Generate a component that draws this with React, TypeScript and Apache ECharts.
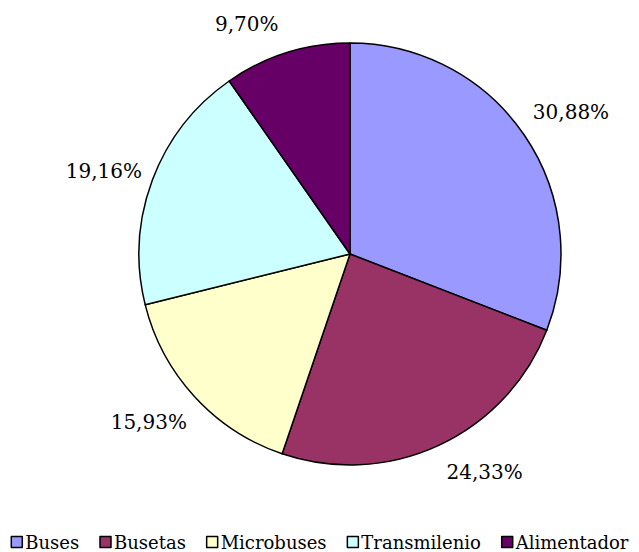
import React, { useEffect, useRef } from "react";
import * as echarts from "echarts";

const categories = ["Buses", "Busetas", "Microbuses", "Transmilenio", "Alimentador"];
const values = [30.88, 24.33, 15.93, 19.16, 9.70];
const colors = ["#9999FF", "#993366", "#FFFFCC", "#CCFFFF", "#660066"];
// small per-label nudges (dx, dy) to mimic the original label placement
const labelNudgeX = [-16, -8, 15, 17, 4];
const labelNudgeY = [-9, 5, 9, 0, -6];

export default function App() {
  const ref = useRef<HTMLDivElement>(null);
  useEffect(() => {
    const chart = echarts.init(ref.current!, undefined, { renderer: "svg" });
    chart.setOption({
      animation: false,
      textStyle: { fontFamily: "DejaVu Serif" },
      legend: {
        top: 533,
        left: "center",
        padding: 0,
        itemWidth: 11,
        itemHeight: 11,
        itemGap: 20,
        icon: "rect",
        textStyle: { fontFamily: "DejaVu Serif", fontSize: 18, color: "#000", padding: [0, 0, 0, -2] },
        itemStyle: { borderColor: "#000", borderWidth: 1.5 },
        data: categories,
      },
      series: [
        {
          type: "pie",
          center: [350, 254],
          radius: 211,
          startAngle: 90,
          clockwise: true,
          data: categories.map((c, i) => ({ name: c, value: values[i], itemStyle: { color: colors[i] } })),
          itemStyle: { borderColor: "#000", borderWidth: 1.5 },
          label: {
            show: true,
            position: "outside",
            formatter: (p: any) => p.value.toFixed(2).replace(".", ",") + "%",
            fontFamily: "DejaVu Serif",
            fontSize: 20,
            color: "#000",
          },
          labelLine: { show: false, length: 24, length2: 0 },
          labelLayout: (p: any) => ({ dx: labelNudgeX[p.dataIndex], dy: labelNudgeY[p.dataIndex] }),
          emphasis: { disabled: true },
        },
      ],
    });
    return () => chart.dispose();
  }, []);
  return <div ref={ref} style={{ width: 639, height: 552, position: "absolute", left: 0, top: 0 }} />;
}
